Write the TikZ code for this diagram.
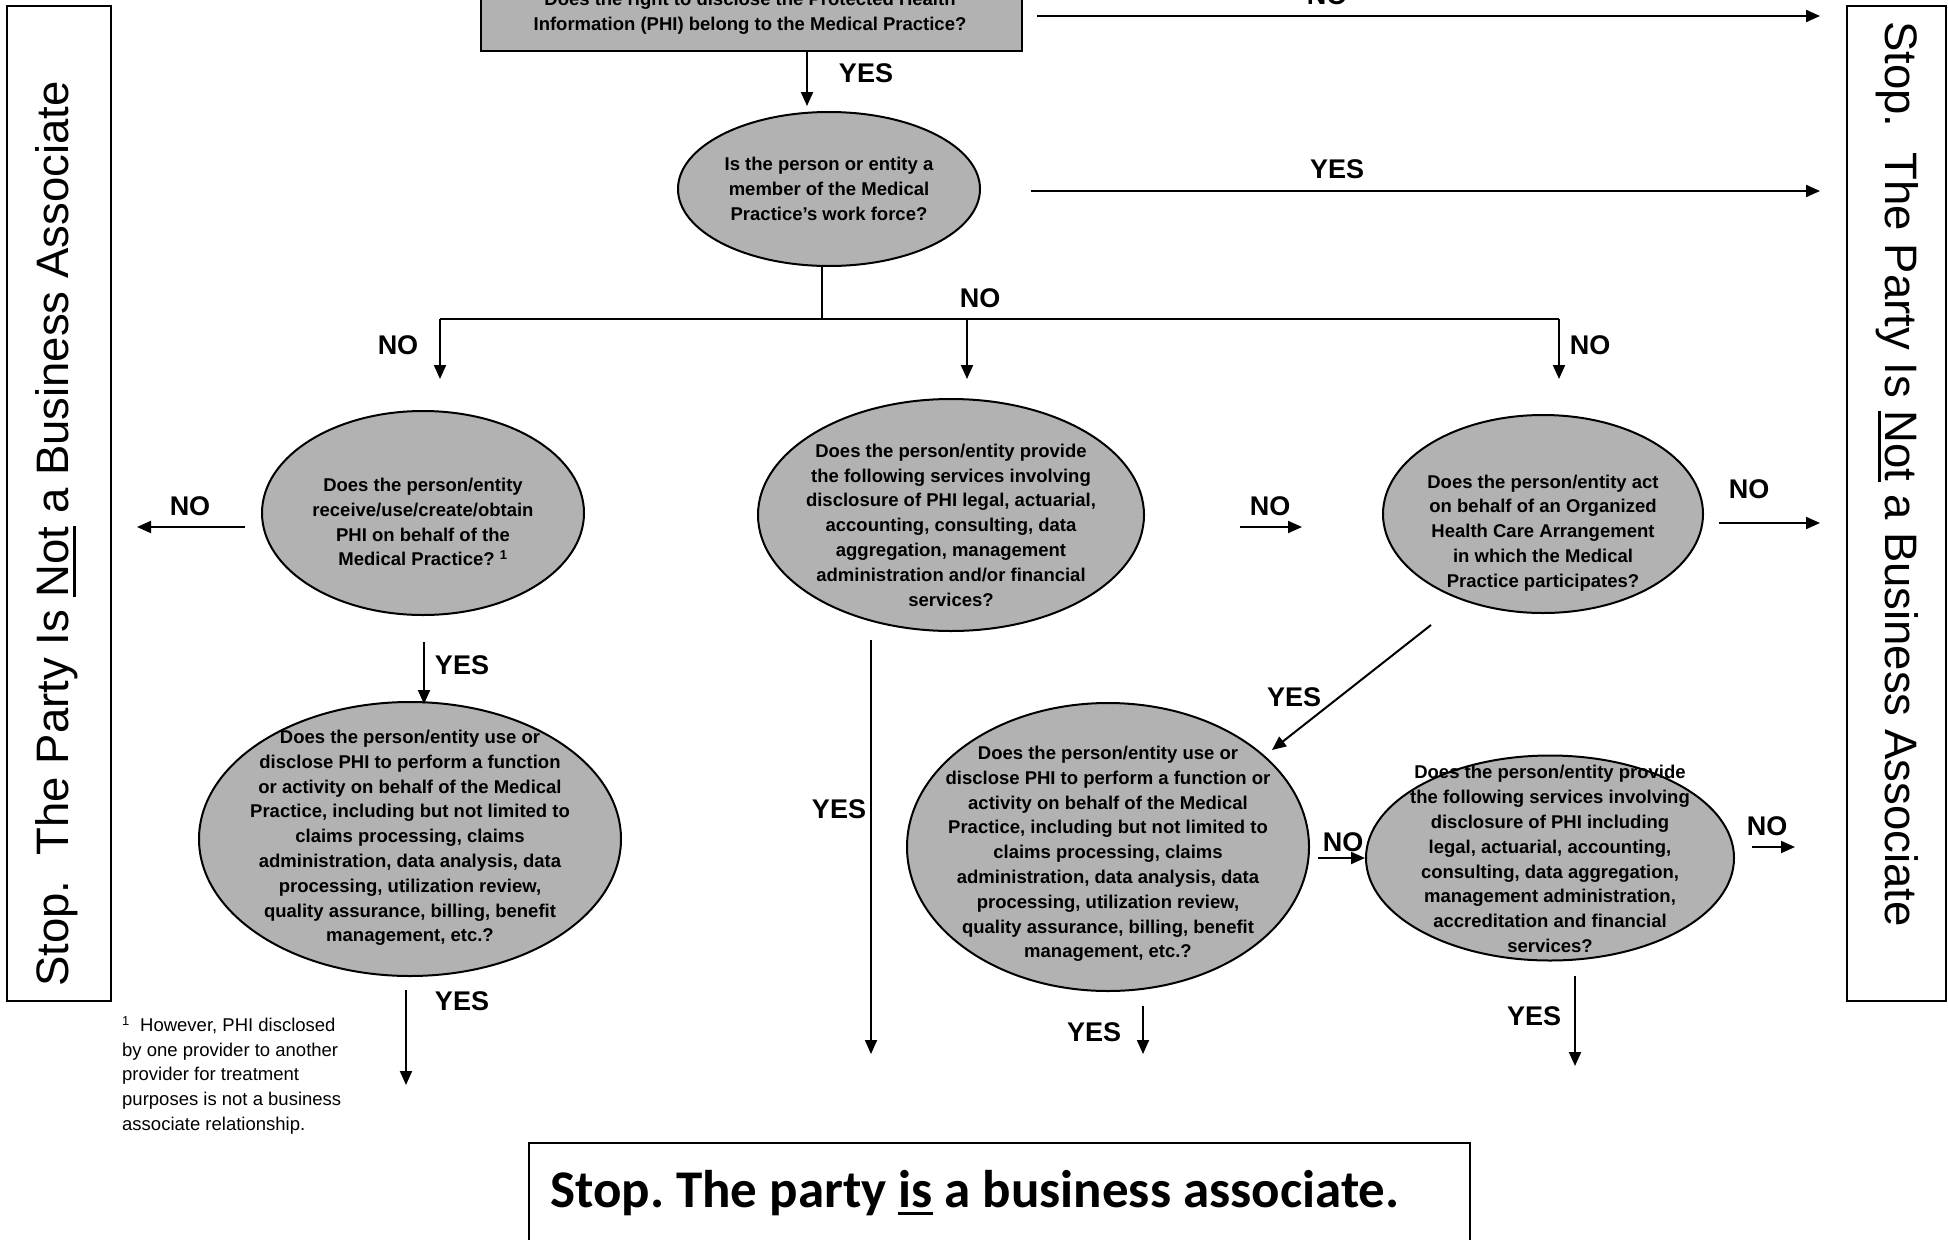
\documentclass[tikz,border=0pt]{standalone}
\usepackage{fontspec}
\setmainfont{Liberation Sans}
\newfontfamily\calibri{Carlito}
\usetikzlibrary{shapes.geometric,arrows.meta}
\definecolor{qgray}{RGB}{178,178,178}
\newcommand\myul[3]{\setbox0\hbox{#1}\rlap{\rule[-#2]{\wd0}{#3}}#1}
\frenchspacing
\begin{document}
\begin{tikzpicture}[x=1pt,y=-1pt,
  ell/.style={ellipse, draw, line width=2pt, fill=qgray, inner sep=0pt},
  qtext/.style={align=center, inner sep=0pt, font=\bfseries\fontsize{18.5}{24.8}\selectfont},
  lab/.style={inner sep=0pt, font=\bfseries\fontsize{27}{30}\selectfont},
  arr/.style={-{Triangle[length=14pt,width=12pt]}, line width=2pt},
  ln/.style={line width=2pt},
  side/.style={draw, line width=2pt, inner sep=0pt},
  sidetext/.style={inner sep=0pt, font=\fontsize{45.5}{50}\selectfont}]
\useasboundingbox (0,0) rectangle (1948,1239);
\clip (0,0) rectangle (1948,1239);
\fill[white] (0,0) rectangle (1948,1239);

% side boxes
\node[side, minimum width=104pt, minimum height=995pt] (lbox) at (59,503.5) {};
\node[sidetext, rotate=90] (ltext) at (57,534) {Stop.\ \ The Party Is \myul{Not}{7pt}{3pt} a Business Associate};
\node[side, minimum width=99pt, minimum height=995pt] (rbox) at (1896.5,503.5) {};
\node[sidetext, rotate=-90] (rtext) at (1897,474) {Stop.\ \ The Party Is \myul{Not}{7pt}{3pt} a Business Associate};

% top box
\node[draw, line width=2pt, fill=qgray, minimum width=541pt, minimum height=81pt, inner sep=0pt] (top) at (751.5,10.5) {};
\node[qtext] (toptext) at (750,13.5) {Does the right to disclose the Protected Health\\Information (PHI) belong to the Medical Practice?};

% ellipses
\node[ell, minimum width=302pt, minimum height=154pt] (e1) at (829,189) {};
\node[qtext] (e1t) at (829,189) {Is the person or entity a\\member of the Medical\\Practice's work force?};

\node[ell, minimum width=322pt, minimum height=204pt] (l1) at (423,513) {};
\node[qtext] (l1t) at (423,522) {Does the person/entity\\receive/use/create/obtain\\PHI on behalf of the\\Medical Practice? \textsuperscript{1}};

\node[ell, minimum width=386pt, minimum height=232pt] (m1) at (951,515) {};
\node[qtext] (m1t) at (951,525) {Does the person/entity provide\\the following services involving\\disclosure of PHI legal, actuarial,\\accounting, consulting, data\\aggregation, management\\administration and/or financial\\services?};

\node[ell, minimum width=320pt, minimum height=198pt] (r1) at (1543,514) {};
\node[qtext] (r1t) at (1543,533) {Does the person/entity act\\on behalf of an Organized\\Health Care Arrangement\\in which the Medical\\Practice participates?};

\node[ell, minimum width=422pt, minimum height=274pt] (l2) at (410,839) {};
\node[qtext] (l2t) at (410,838) {Does the person/entity use or\\disclose PHI to perform a function\\or activity on behalf of the Medical\\Practice, including but not limited to\\claims processing, claims\\administration, data analysis, data\\processing, utilization review,\\quality assurance, billing, benefit\\management, etc.?};

\node[ell, minimum width=402pt, minimum height=288pt] (m2) at (1108,847) {};
\node[qtext] (m2t) at (1108,854) {Does the person/entity use or\\disclose PHI to perform a function or\\activity on behalf of the Medical\\Practice, including but not limited to\\claims processing, claims\\administration, data analysis, data\\processing, utilization review,\\quality assurance, billing, benefit\\management, etc.?};

\node[ell, minimum width=368pt, minimum height=205pt] (r2) at (1550,858) {};
\node[qtext] (r2t) at (1550,859) {Does the person/entity provide\\the following services involving\\disclosure of PHI including\\legal, actuarial, accounting,\\consulting, data aggregation,\\management administration,\\accreditation and financial\\services?};

% bottom box
\draw[line width=2pt] (529,1260) -- (529,1143) coordinate (bb1) -- (1470,1143) coordinate (bb2) -- (1470,1260);
\node[anchor=base west, inner sep=0pt, font=\calibri\bfseries\fontsize{53}{60}\selectfont] (bottomtext) at (550,1207) {Stop. The party \myul{is}{8pt}{3.5pt} a business associate.};

% footnote
\node[anchor=north west, inner sep=0pt, align=left, font=\fontsize{18.5}{24.8}\selectfont] (fn) at (122,1016) {\textsuperscript{1}\ \ However, PHI disclosed\\by one provider to another\\provider for treatment\\purposes is not a business\\associate relationship.};

% coordinates
\coordinate (a1s) at (1037,16);   \coordinate (a1e) at (1820,16);
\coordinate (a2s) at (807,51);    \coordinate (a2e) at (807,106);
\coordinate (a3s) at (1031,191);  \coordinate (a3e) at (1820,191);
\coordinate (b0) at (822,266);    \coordinate (b1) at (822,319);
\coordinate (bl) at (440,319);    \coordinate (br) at (1559,319);
\coordinate (bm) at (967,319);
\coordinate (ble) at (440,379);   \coordinate (bme) at (967,379);  \coordinate (bre) at (1559,379);
\coordinate (a5s) at (245,527);   \coordinate (a5e) at (137,527);
\coordinate (a6s) at (1240,527);  \coordinate (a6e) at (1302,527);
\coordinate (a7s) at (1719,523);  \coordinate (a7e) at (1820,523);
\coordinate (a8s) at (424,642);   \coordinate (a8e) at (424,704);
\coordinate (a9s) at (406,990);   \coordinate (a9e) at (406,1085);
\coordinate (a10s) at (871,640);  \coordinate (a10e) at (871,1054);
\coordinate (a11s) at (1431,625); \coordinate (a11e) at (1272,750);
\coordinate (a12s) at (1318,858); \coordinate (a12e) at (1365,858);
\coordinate (a13s) at (1752,847); \coordinate (a13e) at (1795,847);
\coordinate (a14s) at (1143,1006);\coordinate (a14e) at (1143,1054);
\coordinate (a15s) at (1575,976); \coordinate (a15e) at (1575,1066);

% connectors
\draw[arr] (a1s) -- (a1e);
\draw[arr] (a2s) -- (a2e);
\draw[arr] (a3s) -- (a3e);
\draw[ln] (b0) -- (b1);
\draw[ln] (bl) -- (br);
\draw[arr] (bl) -- (ble);
\draw[arr] (bm) -- (bme);
\draw[arr] (br) -- (bre);
\draw[arr] (a5s) -- (a5e);
\draw[arr] (a6s) -- (a6e);
\draw[arr] (a7s) -- (a7e);
\draw[arr] (a8s) -- (a8e);
\draw[arr] (a9s) -- (a9e);
\draw[arr] (a10s) -- (a10e);
\draw[arr] (a11s) -- (a11e);
\draw[arr] (a12s) -- (a12e);
\draw[arr] (a13s) -- (a13e);
\draw[arr] (a14s) -- (a14e);
\draw[arr] (a15s) -- (a15e);

% labels
\node[lab] (n0) at (1327,-5) {NO};
\node[lab] (y1) at (866,73) {YES};
\node[lab] (y2) at (1337,169) {YES};
\node[lab] (n1) at (980,298) {NO};
\node[lab] (n2) at (398,345) {NO};
\node[lab] (n3) at (1590,345) {NO};
\node[lab] (n4) at (190,506) {NO};
\node[lab] (n5) at (1270,506) {NO};
\node[lab] (n6) at (1749,489) {NO};
\node[lab] (y3) at (462,665) {YES};
\node[lab] (y4) at (462,1001) {YES};
\node[lab] (y5) at (839,809) {YES};
\node[lab] (y6) at (1294,697) {YES};
\node[lab] (n7) at (1343,842) {NO};
\node[lab] (n8) at (1767,826) {NO};
\node[lab] (y7) at (1094,1032) {YES};
\node[lab] (y8) at (1534,1016) {YES};
\end{tikzpicture}
\end{document}
